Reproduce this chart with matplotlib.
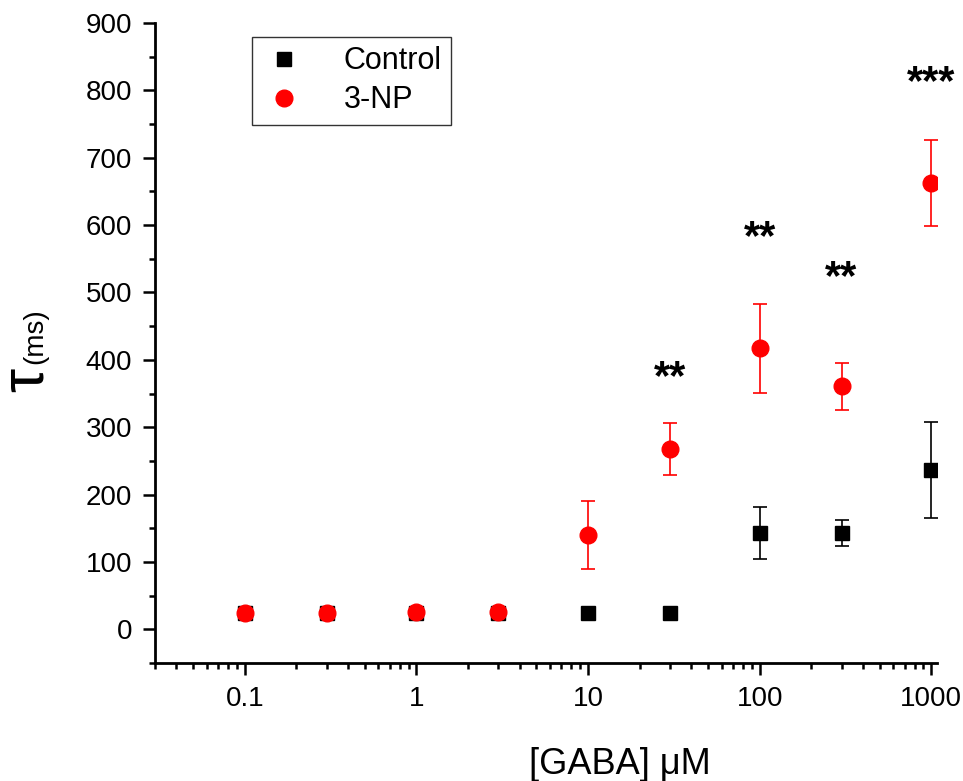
import matplotlib
matplotlib.use("Agg")
import matplotlib.pyplot as plt
from matplotlib.ticker import FixedLocator, FixedFormatter, LogLocator, MultipleLocator, NullFormatter

plt.rcParams['font.family'] = ['Liberation Sans', 'DejaVu Sans']

# GABA concentrations (uM)
gaba = [0.1, 0.3, 1, 3, 10, 30, 100, 300, 1000]

control = [24, 24, 24, 24, 24, 24, 143, 143, 237]
control_err = [3, 3, 3, 3, 0, 0, 38, 19, 71]

np3 = [25, 25, 26, 26, 140, 268, 417, 361, 662]
np3_err = [4, 4, 4, 4, 50, 39, 66, 35, 64]

# significance labels
sig_x = [30, 100, 300, 1000]
sig_y = [373, 581, 522, 811]
sig_txt = ["**", "**", "**", "***"]

x_ticks = [0.1, 1, 10, 100, 1000]
x_ticklabels = ["0.1", "1", "10", "100", "1000"]

fig = plt.figure(figsize=(9.63, 7.81), dpi=100)
ax = fig.add_axes([0.161, 0.151, 0.812, 0.8196])

# error bars first, markers on top (legend shows markers only)
ax.errorbar(gaba, control, yerr=control_err, fmt='none', ecolor='black',
            elinewidth=1.2, capsize=5, capthick=1.2, zorder=2)
ax.errorbar(gaba, np3, yerr=np3_err, fmt='none', ecolor='red',
            elinewidth=1.2, capsize=5, capthick=1.2, zorder=3)
ax.plot(gaba, control, 's', color='black', ms=10, ls='none', label="Control", zorder=4)
ax.plot(gaba, np3, 'o', color='red', ms=12, ls='none', label="3-NP", zorder=5)

for x, y, t in zip(sig_x, sig_y, sig_txt):
    ax.text(x, y, t, ha='center', va='center', fontsize=30, fontweight='bold')

ax.set_xscale('log')
ax.set_xlim(0.03, 1080)
ax.set_ylim(-50, 900)

ax.xaxis.set_major_locator(FixedLocator(x_ticks))
ax.xaxis.set_major_formatter(FixedFormatter(x_ticklabels))
ax.xaxis.set_minor_locator(LogLocator(base=10, subs=range(2, 10), numticks=20))
ax.xaxis.set_minor_formatter(NullFormatter())
ax.yaxis.set_major_locator(MultipleLocator(100))
ax.yaxis.set_minor_locator(MultipleLocator(50))

for s in ['top', 'right']:
    ax.spines[s].set_visible(False)
for s in ['left', 'bottom']:
    ax.spines[s].set_linewidth(2)

ax.tick_params(which='major', direction='out', length=8.5, width=1.8, labelsize=20, pad=8)
ax.tick_params(which='minor', direction='out', length=4.5, width=1.8)

ax.set_xlabel("[GABA] \u03bcM", fontsize=26, va='center')
ax.xaxis.set_label_coords(0.595, -0.159)

# y label: big tau with smaller (ms)
fig.text(27 / 963, 1 - 380 / 781, "\u03c4", rotation=90, fontsize=44,
         ha='center', va='center')
fig.text(35 / 963, 1 - 336 / 781, "(ms)", rotation=90, fontsize=20,
         ha='center', va='center')

leg = ax.legend(loc='upper left', bbox_to_anchor=(0.124, 0.978), fontsize=22,
                frameon=True, fancybox=False, edgecolor='black', handletextpad=1.2,
                borderpad=0.3, labelspacing=0.3, handlelength=1.5, borderaxespad=0)
leg.get_frame().set_linewidth(1)

fig.savefig("out.png", dpi=100)
